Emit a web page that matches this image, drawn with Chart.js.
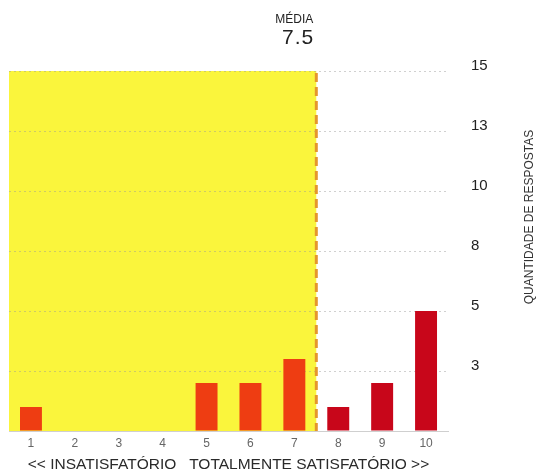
<!DOCTYPE html>
<html>
<head>
<meta charset="utf-8">
<script src="https://cdn.jsdelivr.net/npm/chart.js@4.4.1/dist/chart.umd.min.js"></script>
<style>
  html, body { margin: 0; padding: 0; background: #fff; }
  #wrap { width: 539px; height: 475px; }
</style>
</head>
<body>
<div id="wrap"><canvas id="myChart" width="539" height="475"></canvas></div>
<script>
// dados
const categories = ['1', '2', '3', '4', '5', '6', '7', '8', '9', '10'];
const respostas = [1, 0, 0, 0, 2, 2, 3, 1, 2, 5];
const media = 7.5;
const yMax = 15;
const yStep = 2.5;
const mediaLabel = 'MÉDIA';
const yTitle = 'QUANTIDADE DE RESPOSTAS';
const xTitle = '<< INSATISFATÓRIO   TOTALMENTE SATISFATÓRIO >>';

Chart.defaults.font.family = "'Liberation Sans', Arial, sans-serif";

const mediaPlugin = {
    id: 'media',
    beforeDraw(chart) {
        const { ctx, scales: { x, y } } = chart;
        const half = (x.getPixelForValue(1) - x.getPixelForValue(0)) / 2;
        const left = x.getPixelForValue(0) - half;
        const mx = x.getPixelForValue(media - 1);
        const top = y.getPixelForValue(yMax);
        const bottom = y.getPixelForValue(0);
        ctx.save();
        ctx.fillStyle = '#faf53c';
        ctx.fillRect(left, top, mx - left, bottom - top);
        ctx.restore();
    },
    afterDatasetsDraw(chart) {
        const { ctx, scales: { x, y } } = chart;
        const mx = x.getPixelForValue(media - 1);
        const top = y.getPixelForValue(yMax);
        const bottom = y.getPixelForValue(0);

        ctx.save();
        // linha da média
        ctx.strokeStyle = '#e5962c';
        ctx.lineWidth = 3;
        ctx.setLineDash([9, 5]);
        ctx.beginPath();
        ctx.moveTo(mx, top + 2);
        ctx.lineTo(mx, bottom);
        ctx.stroke();
        ctx.setLineDash([]);

        // rótulo da média
        ctx.fillStyle = '#222';
        ctx.textAlign = 'right';
        ctx.textBaseline = 'middle';
        ctx.font = "12px 'Liberation Sans', Arial, sans-serif";
        ctx.fillText(mediaLabel, mx - 3, 20);
        ctx.font = "21px 'Liberation Sans', Arial, sans-serif";
        ctx.letterSpacing = '1px';
        ctx.fillText(media.toFixed(1), mx - 2, 38);
        ctx.letterSpacing = '0px';

        // título do eixo y
        ctx.translate(530, 217);
        ctx.rotate(-Math.PI / 2);
        ctx.textAlign = 'center';
        ctx.font = "12px 'Liberation Sans', Arial, sans-serif";
        ctx.fillStyle = '#333';
        ctx.fillText(yTitle, 0, 0);
        ctx.restore();
    }
};

new Chart(document.getElementById('myChart'), {
    type: 'bar',
    data: {
        labels: categories,
        datasets: [{
            data: respostas,
            backgroundColor: ctx => (ctx.dataIndex + 1 < media ? '#ee3d12' : '#c8061a'),
            barPercentage: 0.5,
            categoryPercentage: 1
        }]
    },
    options: {
        responsive: false,
        animation: false,
        layout: { padding: { top: 71, left: 9, right: 0, bottom: 0 } },
        plugins: { legend: { display: false }, tooltip: { enabled: false } },
        scales: {
            x: {
                grid: { display: false, drawTicks: false },
                border: { display: true, color: '#cfcfcf', width: 1 },
                ticks: { color: '#666', font: { size: 12 }, padding: 5 },
                title: {
                    display: true,
                    text: xTitle,
                    color: '#2a2a2a',
                    font: { size: 15.5 },
                    padding: { top: 0, bottom: 1 }
                },
                afterFit(scale) { scale.height = 44; }
            },
            y: {
                position: 'right',
                min: 0,
                max: yMax,
                border: { display: false, dash: [2, 3] },
                grid: {
                    drawTicks: false,
                    color: ctx => (ctx.tick.value === 0 ? 'rgba(0,0,0,0)' : 'rgba(150,150,150,0.45)')
                },
                ticks: {
                    stepSize: yStep,
                    padding: 23,
                    labelOffset: -5,
                    color: '#222',
                    font: { size: 15 },
                    callback: v => (v === 0 ? '' : Math.round(v))
                },
                afterFit(scale) { scale.width = 91; }
            }
        }
    },
    plugins: [mediaPlugin]
});
</script>
</body>
</html>
